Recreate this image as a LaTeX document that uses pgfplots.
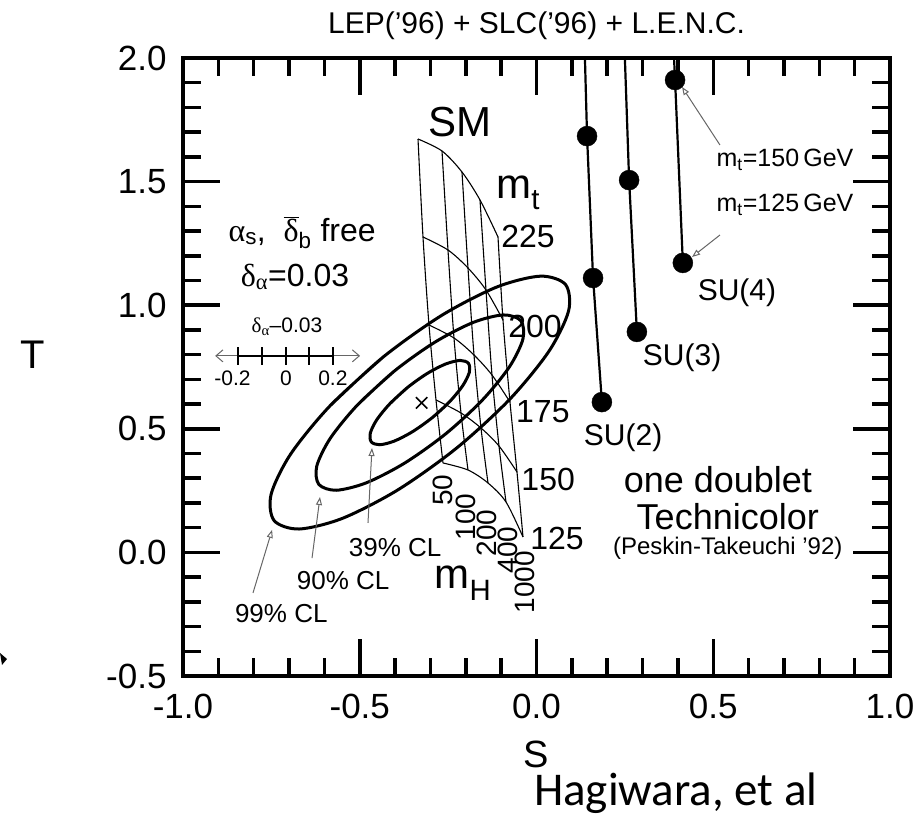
\documentclass[border=0pt]{standalone}
\usepackage{fontspec}
\setmainfont{Liberation Sans}
\newfontfamily\grk{Liberation Serif}
\newfontfamily\calibri{Carlito}
\usepackage{pgfplots}
\pgfplotsset{compat=1.18}
\usetikzlibrary{arrows.meta}
\newcommand{\fs}[1]{\fontsize{#1pt}{#1pt}\selectfont}
\definecolor{annot}{gray}{0.4}

\begin{document}
\begin{tikzpicture}[x=1pt,y=1pt]
\path[use as bounding box] (0,0) rectangle (916,816);
\begin{axis}[
  at={(183pt,140pt)}, anchor=south west,
  scale only axis, width=707pt, height=618pt,
  xmin=-1, xmax=1, ymin=-0.5, ymax=2,
  xtick={-1,-0.5,0,0.5,1}, xticklabels={-1.0,-0.5,0.0,0.5,1.0},
  ytick={-0.5,0,0.5,1,1.5,2}, yticklabels={-0.5,0.0,0.5,1.0,1.5,2.0},
  minor tick num=4,
  tick align=inside, xtick pos=both, ytick pos=both,
  major tick length=37pt, minor tick length=18pt,
  tick style={line width=3.5pt, black},
  axis line style={line width=3.5pt, black},
  xticklabel style={font=\fs{35}, yshift=-15pt},
  yticklabel style={font=\fs{35}, xshift=-13pt},
]
% --- SM prediction grid: lines of constant m_t (125 ... 225 GeV)
\pgfplotsset{smgrid/.style={black, line width=1.1pt, smooth}}
\addplot[smgrid] coordinates {(-0.3352,1.6723) (-0.2673,1.6238) (-0.2108,1.5388) (-0.1598,1.4256) (-0.1089,1.2759)};
\addplot[smgrid] coordinates {(-0.3211,1.2759) (-0.2504,1.2233) (-0.1938,1.1505) (-0.1429,1.0615) (-0.0948,0.9401)};
\addplot[smgrid] coordinates {(-0.3041,0.9199) (-0.2334,0.8673) (-0.1768,0.7985) (-0.1259,0.7176) (-0.0750,0.6084)};
\addplot[smgrid] coordinates {(-0.2843,0.6165) (-0.2136,0.5639) (-0.1570,0.5032) (-0.1061,0.4304) (-0.0552,0.3252)};
\addplot[smgrid] coordinates {(-0.2645,0.3617) (-0.1938,0.3333) (-0.1372,0.2807) (-0.0863,0.2039) (-0.0382,0.0623)};
% lines of constant m_H (50 ... 1000 GeV)
\addplot[smgrid] coordinates {(-0.3352,1.6723) (-0.3211,1.2759) (-0.3041,0.9199) (-0.2843,0.6165) (-0.2645,0.3617)};
\addplot[smgrid] coordinates {(-0.2673,1.6238) (-0.2504,1.2233) (-0.2334,0.8673) (-0.2136,0.5639) (-0.1938,0.3333)};
\addplot[smgrid] coordinates {(-0.2108,1.5388) (-0.1938,1.1505) (-0.1768,0.7985) (-0.1570,0.5032) (-0.1372,0.2807)};
\addplot[smgrid] coordinates {(-0.1598,1.4256) (-0.1429,1.0615) (-0.1259,0.7176) (-0.1061,0.4304) (-0.0863,0.2039)};
\addplot[smgrid] coordinates {(-0.1089,1.2759) (-0.0948,0.9401) (-0.0750,0.6084) (-0.0552,0.3252) (-0.0382,0.0623)};

% --- confidence-level contours (39%, 90%, 99%)
\pgfplotsset{contour/.style={black, line width=3pt, smooth}}
\addplot[contour] coordinates {(-0.3647,0.6673) (-0.4146,0.6017) (-0.4517,0.5368) (-0.4702,0.4825) (-0.4674,0.4469) (-0.4437,0.4355) (-0.4026,0.4501) (-0.3505,0.4885) (-0.2953,0.5447) (-0.2454,0.6103) (-0.2083,0.6752) (-0.1898,0.7295) (-0.1926,0.7651) (-0.2163,0.7765) (-0.2574,0.7619) (-0.3095,0.7235) (-0.3647,0.6673) (-0.4146,0.6017)};
\addplot[contour] coordinates {(-0.4022,0.7335) (-0.5060,0.5971) (-0.5831,0.4621) (-0.6216,0.3491) (-0.6158,0.2751) (-0.5665,0.2514) (-0.4810,0.2817) (-0.3726,0.3616) (-0.2578,0.4785) (-0.1540,0.6149) (-0.0769,0.7499) (-0.0384,0.8629) (-0.0442,0.9369) (-0.0935,0.9606) (-0.1790,0.9303) (-0.2874,0.8504) (-0.4022,0.7335) (-0.5060,0.5971)};
\addplot[contour] coordinates {(-0.4341,0.7899) (-0.5839,0.5932) (-0.6951,0.3985) (-0.7507,0.2354) (-0.7422,0.1287) (-0.6711,0.0946) (-0.5478,0.1384) (-0.3916,0.2534) (-0.2259,0.4221) (-0.0761,0.6188) (0.0351,0.8135) (0.0907,0.9766) (0.0822,1.0833) (0.0111,1.1174) (-0.1122,1.0736) (-0.2684,0.9586) (-0.4341,0.7899) (-0.5839,0.5932)};
% best fit
\addplot[only marks, mark=x, mark size=8pt, line width=1.6pt, black] coordinates {(-0.325,0.605)};

% --- one-doublet technicolor predictions
\addplot[black, line width=2.2pt] coordinates {(0.137,2.0) (0.143,1.684) (0.160,1.110) (0.185,0.608)};
\addplot[black, line width=2.2pt] coordinates {(0.250,2.0) (0.262,1.506) (0.284,0.892)};
\addplot[black, line width=2.2pt] coordinates {(0.389,2.0) (0.392,1.911) (0.414,1.171)};
\addplot[only marks, mark=*, mark size=10pt, black] coordinates {(0.143,1.684) (0.160,1.110) (0.185,0.608) (0.262,1.506) (0.284,0.892) (0.392,1.911) (0.414,1.171)};

% --- annotations
\node[font=\fs{42}] at (axis cs:-0.216,1.741) {SM};
\node[font=\fs{42}] at (axis cs:-0.052,1.455) {m\textsubscript{t}};
\node[font=\fs{32}] at (axis cs:-0.024,1.276) {225};
\node[font=\fs{32}] at (axis cs:-0.004,0.912) {200};
\node[font=\fs{32}] at (axis cs:0.018,0.568) {175};
\node[font=\fs{32}] at (axis cs:0.033,0.293) {150};
\node[font=\fs{32}] at (axis cs:0.058,0.058) {125};
\node[font=\fs{42}] at (axis cs:-0.208,-0.124) {m\textsubscript{H}};
\node[font=\fs{28}, rotate=90] at (axis cs:-0.265,0.252) {50};
\node[font=\fs{28}, rotate=90] at (axis cs:-0.200,0.143) {100};
\node[font=\fs{28}, rotate=90] at (axis cs:-0.140,0.078) {200};
\node[font=\fs{28}, rotate=90] at (axis cs:-0.081,0.010) {400};
\node[font=\fs{28}, rotate=90] at (axis cs:-0.034,-0.120) {1000};

\node[font=\fs{32}] at (axis cs:-0.663,1.292) {{\grk α}\textsubscript{s},\ \ $\overline{\mbox{\grk δ}}$\textsubscript{b} free};
\node[font=\fs{32}] at (axis cs:-0.683,1.114) {{\grk δ}\textsubscript{{\grk α}}=0.03};
\node[font=\fs{21}] at (axis cs:-0.706,0.912) {{\grk δ}\textsubscript{{\grk α}}--0.03};
\draw[annot, line width=1pt, {Straight Barb[length=7pt,width=12pt]}-{Straight Barb[length=7pt,width=12pt]}] (axis cs:-0.909,0.795) -- (axis cs:-0.499,0.795);
\draw[black, line width=1.4pt] (axis cs:-0.844,0.759) -- (axis cs:-0.844,0.831)
  (axis cs:-0.777,0.759) -- (axis cs:-0.777,0.831)
  (axis cs:-0.709,0.759) -- (axis cs:-0.709,0.831)
  (axis cs:-0.644,0.759) -- (axis cs:-0.644,0.831)
  (axis cs:-0.576,0.759) -- (axis cs:-0.576,0.831)
  (axis cs:-0.844,0.795) -- (axis cs:-0.576,0.795);
\node[font=\fs{21}] at (axis cs:-0.860,0.706) {-0.2};
\node[font=\fs{21}] at (axis cs:-0.709,0.706) {0};
\node[font=\fs{21}] at (axis cs:-0.576,0.706) {0.2};

\node[font=\fs{26}] at (axis cs:-0.400,0.018) {39\% CL};
\node[font=\fs{26}] at (axis cs:-0.547,-0.112) {90\% CL};
\node[font=\fs{26}] at (axis cs:-0.722,-0.249) {99\% CL};
\draw[annot, line width=1pt, -{Triangle[open, length=8pt, width=6pt]}] (axis cs:-0.4767,0.119) -- (axis cs:-0.4654,0.422);
\draw[annot, line width=1pt, -{Triangle[open, length=8pt, width=6pt]}] (axis cs:-0.635,-0.023) -- (axis cs:-0.6125,0.224);
\draw[annot, line width=1pt, -{Triangle[open, length=8pt, width=6pt]}] (axis cs:-0.802,-0.164) -- (axis cs:-0.748,0.091);

\node[font=\fs{25}] at (axis cs:0.703,1.587) {m\textsubscript{t}=150\,GeV};
\node[font=\fs{25}] at (axis cs:0.703,1.405) {m\textsubscript{t}=125\,GeV};
\draw[annot, line width=1pt, -{Triangle[open, length=8pt, width=6pt]}] (axis cs:0.519,1.648) -- (axis cs:0.4116,1.883);
\draw[annot, line width=1pt, -{Triangle[open, length=8pt, width=6pt]}] (axis cs:0.519,1.284) -- (axis cs:0.440,1.195);

\node[font=\fs{30}] at (axis cs:0.567,1.049) {SU(4)};
\node[font=\fs{30}] at (axis cs:0.412,0.786) {SU(3)};
\node[font=\fs{30}] at (axis cs:0.245,0.463) {SU(2)};
\node[font=\fs{36}] at (axis cs:0.513,0.293) {one doublet};
\node[font=\fs{36}] at (axis cs:0.541,0.143) {Technicolor};
\node[font=\fs{24}] at (axis cs:0.541,0.018) {(Peskin-Takeuchi '92)};
\end{axis}
% titles and axis names
\node[font=\fs{30}] at (536.5,790) {LEP('96) + SLC('96) + L.E.N.C.};
\node[font=\fs{40}] at (33,461) {T};
\node[font=\fs{38}] at (536,62) {S};
\node[font=\calibri\fs{47}, anchor=base west, inner sep=0pt] at (534,10) {Hagiwara, et al};
\fill[black] (0,163) -- (7,157) -- (2,151) -- cycle;
\end{tikzpicture}
\end{document}
